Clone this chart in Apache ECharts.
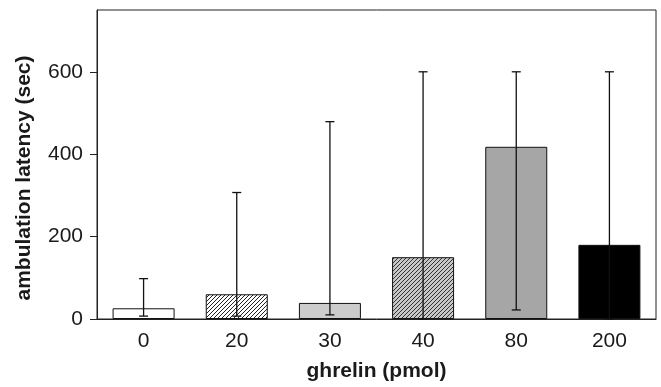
<!DOCTYPE html>
<html>
<head>
<meta charset="utf-8">
<script src="https://cdn.jsdelivr.net/npm/echarts@6/dist/echarts.min.js"></script>
<style>
  html, body { margin: 0; padding: 0; background: #fff; }
  #chart { width: 661px; height: 387px; }
</style>
</head>
<body>
<div id="chart"></div>
<script>
// data
const doses = ['0', '20', '30', '40', '80', '200'];
const latency = [26, 60, 39, 150, 418, 180];
const errLow = [7, 7, 10, 0, 22, 0];
const errHigh = [98, 307, 479, 600, 600, 600];
const yTicks = [0, 200, 400, 600];

// hatch pattern for the striped bars
const makeHatch = (bg, line, gap) => {
  const c = document.createElement('canvas');
  c.width = gap;
  c.height = gap;
  const ctx = c.getContext('2d');
  ctx.fillStyle = bg;
  ctx.fillRect(0, 0, gap, gap);
  ctx.strokeStyle = line;
  ctx.lineWidth = 1;
  ctx.beginPath();
  ctx.moveTo(-1, gap + 1);
  ctx.lineTo(gap + 1, -1);
  ctx.moveTo(-1, 1);
  ctx.lineTo(1, -1);
  ctx.moveTo(gap - 1, gap + 1);
  ctx.lineTo(gap + 1, gap - 1);
  ctx.stroke();
  return { image: c, repeat: 'repeat' };
};

const fills = [
  '#ffffff',
  makeHatch('#ffffff', '#222222', 4),
  '#cccccc',
  makeHatch('#c8c8c8', '#333333', 4),
  '#a6a6a6',
  '#000000',
];

const chart = echarts.init(document.getElementById('chart'));
const font = 'Liberation Sans, Arial, sans-serif';

chart.setOption({
  animation: false,
  backgroundColor: '#fff',
  grid: {
    left: 97, right: 5, top: 10, bottom: 62,
    show: true, borderColor: '#222', borderWidth: 1, backgroundColor: 'transparent',
  },
  xAxis: {
    type: 'category',
    data: doses,
    axisLine: { lineStyle: { color: '#222', width: 1 } },
    axisTick: { length: 6, lineStyle: { color: '#222' } },
    axisLabel: { color: '#1a1a1a', fontSize: 21, fontFamily: font, margin: 12 },
    name: 'ghrelin (pmol)',
    nameLocation: 'middle',
    nameGap: 42,
    nameTextStyle: { color: '#1a1a1a', fontSize: 21, fontWeight: 'bold', fontFamily: font },
  },
  yAxis: {
    type: 'value',
    min: 0,
    max: 750,
    interval: 200,
    splitLine: { show: false },
    axisLine: { show: true, lineStyle: { color: '#222', width: 1 } },
    axisTick: { show: true, length: 7, customValues: yTicks, lineStyle: { color: '#222' } },
    axisLabel: { color: '#1a1a1a', fontSize: 21, fontFamily: font, margin: 14, customValues: yTicks },
  },
  graphic: [{
    type: 'text',
    rotation: Math.PI / 2,
    x: 24,
    y: 178,
    style: {
      text: 'ambulation latency (sec)',
      fill: '#1a1a1a',
      font: 'bold 21px ' + font,
      align: 'center',
      verticalAlign: 'middle',
    },
  }],
  series: [
    {
      type: 'bar',
      barWidth: 62,
      data: latency.map((v, i) => ({
        value: v,
        itemStyle: { color: fills[i], borderColor: '#111', borderWidth: 1 },
      })),
    },
    {
      type: 'custom',
      data: doses.map((d, i) => [i, errLow[i], errHigh[i]]),
      z: 5,
      renderItem: (params, api) => {
        const lo = api.coord([api.value(0), api.value(1)]);
        const hi = api.coord([api.value(0), api.value(2)]);
        const cap = 4.5;
        const style = { stroke: '#111', lineWidth: 1.3 };
        return {
          type: 'group',
          children: [
            { type: 'line', shape: { x1: hi[0], y1: hi[1], x2: lo[0], y2: lo[1] }, style },
            { type: 'line', shape: { x1: hi[0] - cap, y1: hi[1], x2: hi[0] + cap, y2: hi[1] }, style },
            { type: 'line', shape: { x1: lo[0] - cap, y1: lo[1], x2: lo[0] + cap, y2: lo[1] }, style },
          ],
        };
      },
    },
  ],
});
</script>
</body>
</html>
